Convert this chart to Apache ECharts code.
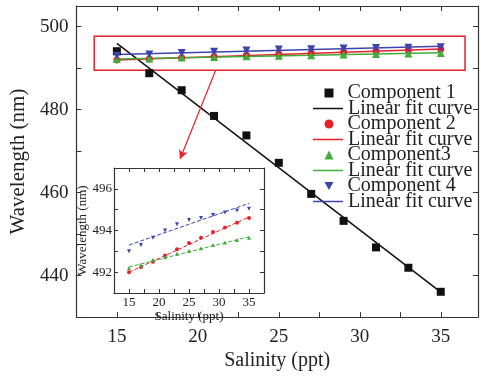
<!DOCTYPE html>
<html>
<head>
<meta charset="utf-8">
<script src="https://cdn.jsdelivr.net/npm/echarts@6/dist/echarts.min.js"></script>
<style>
  html, body { margin: 0; padding: 0; background: #fff; }
  #chart { width: 481px; height: 376px; }
</style>
</head>
<body>
<div id="chart"></div>
<script>
// salinity steps (ppt)
const salinity = [15, 17, 19, 21, 23, 25, 27, 29, 31, 33, 35]
// measured wavelengths (nm)
const comp1 = [494.1, 488.8, 484.7, 478.5, 473.8, 467.2, 459.7, 453.2, 446.8, 441.9, 436.1]
const comp2 = [492.0, 492.25, 492.5, 492.8, 493.1, 493.4, 493.65, 493.93, 494.15, 494.37, 494.6]
const comp3 = [492.2, 492.35, 492.6, 492.72, 492.88, 493.03, 493.15, 493.3, 493.43, 493.55, 493.65]
const comp4 = [493.0, 493.3, 493.65, 494.0, 494.3, 494.5, 494.6, 494.75, 494.87, 494.96, 495.05]
// linear fit end points
const fitX = [15, 35]
const fit1 = [496.0, 436.0]
const fit2 = [492.0, 494.65]
const fit3 = [492.25, 493.7]
const fit4 = [493.3, 495.3]

const RED = '#e8202a'
const GREEN = '#3fae3a'
const BLUE = '#3a44b0'
const FONT = 'Liberation Serif'
const DOWN_TRIANGLE = 'path://M0,0L10,0L5,9Z'

let pairs = (xs, ys) => xs.map((x, i) => [x, ys[i]])

let makeAxis = (opts) => {
  // one side of a boxed axis, ticks pointing inward
  return Object.assign({
    type: 'value',
    splitLine: { show: false },
    axisLine: { show: true, onZero: false, lineStyle: { color: '#333', width: 1.2 } },
    axisTick: { show: true, inside: true, length: 5, lineStyle: { color: '#333' } },
    axisLabel: { show: false },
    nameTextStyle: { fontFamily: FONT, color: '#222' }
  }, opts)
}

let everyNth = (step) => (v) => (Math.abs(v / step - Math.round(v / step)) < 1e-6 ? String(v) : '')

let mainLabel = { show: true, fontFamily: FONT, fontSize: 19, color: '#222' }
let insetLabel = { show: true, fontFamily: FONT, fontSize: 13, color: '#222' }
let insetTick = { show: true, inside: true, length: 4, lineStyle: { color: '#333' } }

let scatter = (name, data, symbol, color, size, ax, extra) => Object.assign({
  name: name, type: 'scatter', xAxisIndex: ax, yAxisIndex: ax,
  symbol: symbol, symbolSize: size, itemStyle: { color: color, opacity: 1 },
  data: pairs(salinity, data), z: 4
}, extra || {})

let fitLine = (name, data, color, ax, dashed) => ({
  name: name, type: 'line', xAxisIndex: ax, yAxisIndex: ax,
  symbol: 'none', data: pairs(fitX, data), z: 3,
  lineStyle: { color: color, width: dashed ? 1 : 1.5, type: dashed ? [4, 2] : 'solid' },
  itemStyle: { color: color }
})

let legendText = { fontFamily: FONT, fontSize: 20, lineHeight: 15.5, color: '#222' }

let echart = echarts.init(document.getElementById('chart'))

let opts = {
  animation: false,
  grid: [
    { left: 71, top: 6, right: 1, bottom: 52 },
    { left: 114, top: 168, width: 150, height: 125, show: true, backgroundColor: '#fff', borderWidth: 0 }
  ],
  legend: [
    { // marker rows
      orient: 'vertical', left: 319.5, top: 78,
      itemWidth: 9, itemHeight: 9, itemGap: 11,
      data: [
        { name: 'Component 1' },
        { name: 'Component 2' },
        { name: 'Component3' },
        { name: 'Component 4', icon: DOWN_TRIANGLE }
      ],
      textStyle: Object.assign({ padding: [0, 0, 0, 9] }, legendText)
    },
    { // fit line rows
      orient: 'vertical', left: 308, top: 93.5,
      itemWidth: 30, itemHeight: 1.5, itemGap: 11,
      data: ['fit1', 'fit2', 'fit3', 'fit4'].map(n => ({ name: n, icon: 'rect' })),
      formatter: () => 'Linear fit curve',
      textStyle: legendText
    }
  ],
  xAxis: [
    makeAxis({ gridIndex: 0, position: 'bottom', min: 12.5, max: 37.3, interval: 2.5,
      axisLabel: Object.assign({}, mainLabel, { margin: 10, formatter: everyNth(5) }),
      name: 'Salinity (ppt)', nameLocation: 'middle', nameGap: 25,
      nameTextStyle: { fontFamily: FONT, fontSize: 20, color: '#222' } }),
    makeAxis({ gridIndex: 0, position: 'top', min: 12.5, max: 37.3, interval: 2.5 }),
    makeAxis({ gridIndex: 1, position: 'bottom', min: 12.5, max: 37.5, interval: 2.5,
      axisTick: insetTick,
      axisLabel: Object.assign({}, insetLabel, { margin: 3, formatter: everyNth(5) }),
      name: 'Salinity (ppt)', nameLocation: 'middle', nameGap: 14,
      nameTextStyle: { fontFamily: FONT, fontSize: 13, color: '#222' } }),
    makeAxis({ gridIndex: 1, position: 'top', min: 12.5, max: 37.5, interval: 2.5, axisTick: insetTick })
  ],
  yAxis: [
    makeAxis({ gridIndex: 0, position: 'left', min: 430, max: 505, interval: 10,
      axisLabel: Object.assign({}, mainLabel, { margin: 8, formatter: everyNth(20) }),
      name: 'Wavelength (nm)', nameLocation: 'middle', nameGap: 42,
      nameTextStyle: { fontFamily: FONT, fontSize: 21, color: '#222' } }),
    makeAxis({ gridIndex: 0, position: 'right', min: 430, max: 505, interval: 10 }),
    makeAxis({ gridIndex: 1, position: 'left', min: 491, max: 497, interval: 1,
      axisTick: insetTick,
      axisLabel: Object.assign({}, insetLabel, { margin: 2, formatter: everyNth(2) }),
      name: 'Wavelength (nm)', nameLocation: 'middle', nameGap: 23,
      nameTextStyle: { fontFamily: FONT, fontSize: 13, color: '#222' } }),
    makeAxis({ gridIndex: 1, position: 'right', min: 491, max: 497, interval: 1, axisTick: insetTick })
  ],
  series: [
    // main panel
    scatter('Component 1', comp1, 'rect', '#111', 8, 0),
    fitLine('fit1', fit1, '#111', 0, false),
    scatter('Component 2', comp2, 'circle', RED, 7, 0, {
      // red zoom box and arrow to the inset
      markArea: {
        silent: true,
        itemStyle: { color: 'rgba(0,0,0,0)', borderColor: RED, borderWidth: 1.5 },
        data: [[{ coord: [13.6, 497.7] }, { coord: [36.5, 489.5] }]]
      },
      markLine: {
        silent: true, symbolSize: [7, 9],
        label: { show: false },
        lineStyle: { color: RED, width: 1.2, type: 'solid' },
        data: [[{ coord: [21.1, 489.5], symbol: 'none' }, { coord: [18.9, 468.1], symbol: 'arrow' }]]
      }
    }),
    fitLine('fit2', fit2, RED, 0, false),
    scatter('Component3', comp3, 'triangle', GREEN, 8, 0),
    fitLine('fit3', fit3, GREEN, 0, false),
    scatter('Component 4', comp4, DOWN_TRIANGLE, BLUE, 8, 0),
    fitLine('fit4', fit4, BLUE, 0, false),
    // inset panel
    scatter('in2', comp2, 'circle', RED, 4, 2),
    fitLine('inFit2', fit2, RED, 2, true),
    scatter('in3', comp3, 'triangle', GREEN, 4, 2),
    fitLine('inFit3', fit3, GREEN, 2, true),
    scatter('in4', comp4, DOWN_TRIANGLE, BLUE, 4, 2),
    fitLine('inFit4', fit4, BLUE, 2, true)
  ]
}

echart.setOption(opts)
</script>
</body>
</html>
